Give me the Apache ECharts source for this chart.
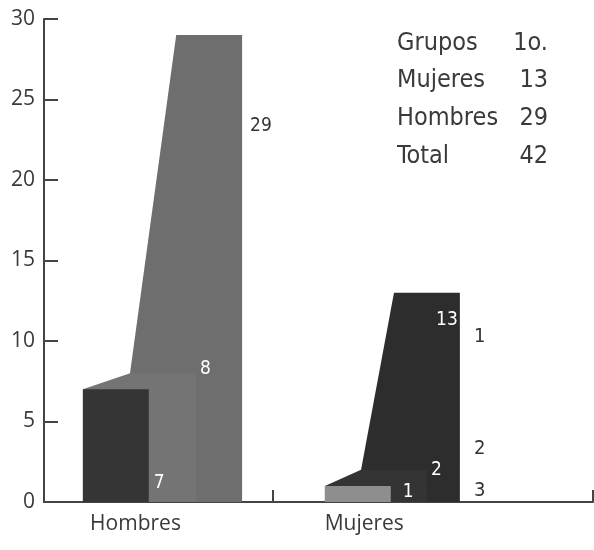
<!DOCTYPE html>
<html>
<head>
<meta charset="utf-8">
<script src="https://cdn.jsdelivr.net/npm/echarts@6/dist/echarts.min.js"></script>
<style>
  html, body { margin: 0; padding: 0; background: #fff; }
  #chart { width: 594px; height: 550px; }
</style>
</head>
<body>
<div id="chart"></div>
<script>
// datos
const groups = ["Hombres", "Mujeres"];
const front = [7, 1];
const middle = [8, 2];
const back = [29, 13];
const sideLabels = ["1", "2", "3"];
const tableNames = ["Grupos", "Mujeres", "Hombres", "Total"];
const tableValues = ["1o.", "13", "29", "42"];

// posicion de las capas en unidades del eje x (0..12)
const groupCenters = [2, 7];
const layerLeft = [
  [0.85, 1.88, 2.89],
  [6.14, 6.93, 7.65],
];
const barWidth = 1.44;
const colors = [
  ["#353535", "#747474", "#6e6e6e"],
  ["#8e8e8e", "#343434", "#2d2d2d"],
];

const narrow = "'Liberation Sans Narrow', 'DejaVu Sans Condensed', sans-serif";
const chart = echarts.init(document.getElementById("chart"));

function renderItem(params, api) {
  const g = api.value(0);
  const vals = [api.value(1), api.value(2), api.value(3)];
  const L = layerLeft[g];
  const c = colors[g];
  const p = (x, y) => api.coord([x, y]);
  const children = [];

  // capa de atras
  children.push({
    type: "polygon",
    shape: { points: [p(L[1], vals[1]), p(L[2], vals[2]), p(L[2] + barWidth, vals[2]), p(L[2] + barWidth, 0), p(L[1], 0)] },
    style: { fill: c[2] },
  });
  // capa del medio
  children.push({
    type: "polygon",
    shape: { points: [p(L[0], vals[0]), p(L[1], vals[1]), p(L[1] + barWidth, vals[1]), p(L[1] + barWidth, 0), p(L[0], 0)] },
    style: { fill: c[1] },
  });
  // capa de enfrente
  children.push({
    type: "polygon",
    shape: { points: [p(L[0], vals[0]), p(L[0] + barWidth, vals[0]), p(L[0] + barWidth, 0), p(L[0], 0)] },
    style: { fill: c[0] },
  });

  // etiquetas
  const fr = p(L[0] + barWidth, 0);
  const md = p(L[1] + barWidth, vals[1]);
  const bk = p(L[2] + barWidth, vals[2]);
  const txt = (x, y, s, fill, align) => ({
    type: "text",
    x: x, y: y,
    style: { text: s, fill: fill, font: "19px " + narrow, align: align || "left", verticalAlign: "middle" },
  });
  if (g === 0) {
    children.push(txt(fr[0] + 5, fr[1] - 19, String(vals[0]), "#fff"));
    children.push(txt(md[0] + 4, md[1] - 4, String(vals[1]), "#fff"));
    children.push(txt(bk[0] + 8, bk[1] + 91, String(vals[2]), "#333"));
  } else {
    children.push(txt(fr[0] + 12, fr[1] - 10, String(vals[0]), "#fff"));
    children.push(txt(md[0] + 4, md[1], String(vals[1]), "#fff"));
    children.push(txt(bk[0] - 2, bk[1] + 27, String(vals[2]), "#fff", "right"));
  }
  return { type: "group", children: children };
}

const textColor = "#3a3a3a";
const graphics = [];
sideLabels.forEach((s, i) => {
  const ys = [338, 450, 492];
  graphics.push({
    type: "text", left: 474, top: ys[i] - 11,
    style: { text: s, fill: "#333", font: "20px " + narrow },
  });
});
tableNames.forEach((s, i) => {
  const y = 43 + i * 37.8;
  graphics.push({
    type: "text", x: 397, y: y,
    style: { text: s, fill: textColor, font: "25px " + narrow, verticalAlign: "middle" },
  });
  graphics.push({
    type: "text", x: 548, y: y,
    style: { text: tableValues[i], fill: textColor, font: "25px " + narrow, align: "right", verticalAlign: "middle" },
  });
});

const option = {
  backgroundColor: "#fff",
  animation: false,
  grid: { left: 44, right: 1, top: 19, bottom: 48 },
  xAxis: {
    type: "value",
    min: 0,
    max: 12,
    splitLine: { show: false },
    axisLine: { show: true, lineStyle: { color: "#444", width: 2 } },
    axisTick: { show: true, inside: true, length: 12, customValues: [5, 12], lineStyle: { color: "#444", width: 2 } },
    axisLabel: {
      customValues: groupCenters,
      formatter: (v) => groups[groupCenters.indexOf(v)] || "",
      color: textColor,
      fontFamily: "'Open Sans', sans-serif",
      fontSize: 21,
      margin: 12,
    },
  },
  yAxis: {
    type: "value",
    min: 0,
    max: 30,
    interval: 5,
    splitLine: { show: false },
    axisLine: { show: true, lineStyle: { color: "#444", width: 2 } },
    axisTick: { show: true, inside: true, length: 14, lineStyle: { color: "#444", width: 2 } },
    axisLabel: { color: textColor, fontFamily: "'Open Sans', sans-serif", fontSize: 21, margin: 9 },
  },
  series: [
    {
      type: "custom",
      renderItem: renderItem,
      encode: { x: 0, y: 3 },
      data: groups.map((g, i) => [i, front[i], middle[i], back[i]]),
    },
  ],
  graphic: graphics,
};

chart.setOption(option);
</script>
</body>
</html>
